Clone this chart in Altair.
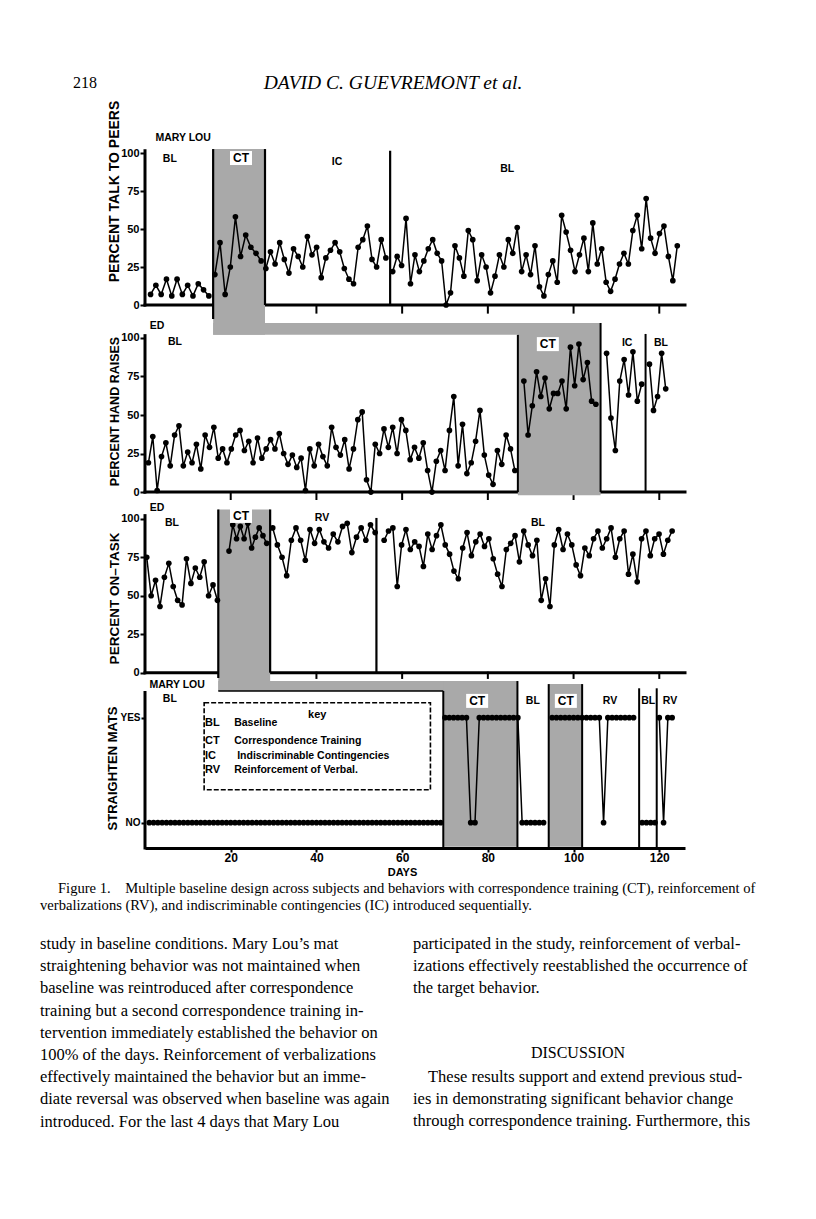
import altair as alt
import numpy as np
import pandas as pd

# ---------------- data ----------------
DAY_DOMAIN = [0, 126]
DAY_TICKS = [20, 40, 60, 80, 100, 120]
PCT_TICKS = [0, 25, 50, 75, 100]

# Panel 1 - Mary Lou, percent talk to peers
talk_bl1 = [7, 13, 7, 17, 6, 17, 7, 13, 6, 14, 10, 6]
talk_ct = [20, 41, 7, 25, 58, 32, 46, 38, 34, 29]
talk_ic = [24, 35, 27, 41, 30, 21, 37, 32, 25, 45, 33, 38, 18, 31, 36, 41, 35, 24,
           17, 14, 38, 43, 52, 30, 25, 43, 31]
talk_bl2 = [22, 32, 26, 57, 14, 33, 22, 29, 37, 43, 34, 29, 0, 8, 39, 31, 19, 49, 43, 16,
            33, 25, 8, 19, 33, 25, 43, 34, 51, 22, 33, 20, 39, 12, 6, 20, 29, 15, 59, 48,
            36, 22, 33, 44, 22, 54, 27, 37, 15, 9, 17, 27, 34, 27, 49, 59, 37, 70, 44, 34,
            47, 52, 32, 16, 39]
talk_phase_days = [(1.3, 14.9), (16.3, 27.1), (28.2, 56.2), (57.8, 124.2)]

# Panel 2 - Ed, percent hand raises
hand_bl1 = [19, 36, 1, 23, 32, 17, 37, 43, 17, 26, 19, 31, 15, 37, 29, 42, 22, 28, 19, 28,
            37, 40, 27, 33, 19, 35, 22, 28, 34, 28, 38, 25, 18, 24, 16, 22, 1, 28, 17, 31,
            23, 17, 42, 29, 24, 34, 15, 28, 47, 52, 8, 0, 31, 25, 41, 29, 42, 25, 47, 40,
            21, 29, 22, 32, 14, 0, 20, 27, 14, 40, 62, 17, 44, 12, 19, 33, 53, 24, 11, 5,
            27, 18, 37, 28, 14]
hand_ct = [72, 37, 56, 78, 62, 74, 54, 64, 64, 72, 54, 94, 69, 96, 73, 84, 59, 57]
hand_ic = [90, 48, 27, 72, 86, 63, 91, 59, 70]
hand_bl2 = [83, 53, 62, 90, 67]
hand_phase_days = [(0.8, 86.3), (88.4, 105.2), (107.7, 115.9), (117.7, 121.5)]

# Panel 3 - Ed, percent on-task
task_bl1 = [75, 50, 60, 43, 62, 71, 56, 47, 44, 74, 58, 68, 62, 72, 50, 57, 47]
task_ct = [79, 96, 87, 95, 87, 97, 81, 88, 94, 89, 84]
task_rv = [94, 83, 75, 63, 86, 94, 86, 73, 93, 84, 93, 85, 81, 90, 85, 95, 97, 78, 88, 94,
           86, 96, 91]
task_bl2 = [86, 92, 94, 56, 83, 93, 80, 85, 82, 69, 90, 80, 89, 96, 83, 77, 66, 61, 81, 91,
            76, 85, 90, 82, 87, 74, 64, 56, 80, 84, 89, 72, 92, 83, 76, 86, 47, 61, 43, 83,
            93, 80, 90, 83, 70, 63, 81, 76, 87, 92, 81, 87, 94, 75, 87, 92, 64, 77, 59, 87,
            92, 76, 87, 90, 77, 86, 92]
task_phase_days = [(0.4, 16.9), (19.6, 28.4), (29.8, 53.7), (55.8, 123.0)]

# Panel 4 - Mary Lou, straighten mats (1 = YES, 0 = NO), one value per day
mats_bl1 = [0, 0, 0, 0, 0, 0, 0, 0, 0, 0, 0, 0, 0, 0, 0, 0, 0, 0, 0, 0, 0, 0, 0,
            0, 0, 0, 0, 0, 0, 0, 0, 0, 0, 0, 0, 0, 0, 0, 0, 0, 0, 0, 0, 0, 0, 0,
            0, 0, 0, 0, 0, 0, 0, 0, 0, 0, 0, 0, 0, 0, 0, 0, 0, 0, 0, 0, 0, 0, 0]
mats_ct1_bl = [1, 1, 1, 1, 1, 1, 0, 0, 1, 1, 1, 1, 1, 1, 1, 1, 1, 1, 0, 0, 0, 0, 0, 0]
mats_ct2_rv = [1, 1, 1, 1, 1, 1, 1, 1, 1, 1, 1, 1, 0, 1, 1, 1, 1, 1, 1, 1]
mats_bl2 = [0, 0, 0, 0]
mats_rv2 = [1, 0, 1, 1]
mats_start_days = [1, 70, 95, 116, 120]

# Phase regions / lines (days) and y-extent (panel units)
talk_shades = [(15.9, 28.0, -9.2, 102.6)]
hand_shades = [(15.9, 28.0, 102, 112.3), (15.9, 106.3, 102, 109.7), (87.0, 106.3, -2, 109.7)]
task_shades = [(17.1, 29.2, -3.44, 106)]
mats_shades = [(17.1, 29.2, 1.254, 1.378), (17.1, 86.9, 1.254, 1.349),
               (69.6, 86.9, -0.23, 1.349), (94.2, 102.0, -0.23, 1.32)]

talk_phase_lines = [(15.9, -9.2, 102.6), (28.0, 0, 102.6), (57.2, 0, 101.5)]
hand_phase_lines = [(87.0, 0, 102), (106.3, 0, 109.7), (116.8, 0, 102.6)]
task_phase_lines = [(17.1, -3.44, 106), (29.2, 0, 106), (54.0, 0, 100.5)]
mats_phase_lines = [(69.6, -0.241, 1.254), (86.9, -0.241, 1.349), (94.2, -0.241, 1.32),
                    (102.0, -0.241, 1.32), (115.3, -0.241, 1.28), (119.4, -0.241, 1.28)]

# Phase labels: (day, value, text)
talk_labels = [(8.9, 109.9, "MARY LOU"), (5.8, 96, "BL"), (44.8, 94, "IC"), (84.5, 89.5, "BL")]
talk_ct_labels = [(22.4, 96.7, "CT")]
hand_labels = [(2.8, 107.8, "ED"), (7.0, 97.4, "BL"), (112.5, 96.8, "IC"), (120.4, 96.8, "BL")]
hand_ct_labels = [(94.0, 96.0, "CT")]
task_labels = [(2.8, 107, "ED"), (6.3, 97.2, "BL"), (41.3, 100.5, "RV"), (91.7, 97.2, "BL")]
task_ct_labels = [(22.4, 101.8, "CT")]
mats_labels = [(7.5, 1.311, "MARY LOU"), (5.8, 1.178, "BL"), (90.5, 1.16, "BL"),
               (108.5, 1.16, "RV"), (117.4, 1.16, "BL"), (122.5, 1.16, "RV")]
mats_ct_labels = [(77.5, 1.16, "CT"), (98.2, 1.16, "CT")]

key_box = [(13.8, 66.6, 0.314, 1.143)]
key_title = [(40.2, 1.026, "key")]
key_abbr = [(14.0, 0.949, "BL"), (14.0, 0.778, "CT"), (14.0, 0.635, "IC"), (14.0, 0.502, "RV")]
key_desc = [(20.8, 0.949, "Baseline"), (20.8, 0.778, "Correspondence Training"),
            (21.5, 0.635, "Indiscriminable Contingencies"), (20.8, 0.502, "Reinforcement of Verbal.")]

# Page text
header_num = "218"
header_title = "DAVID C. GUEVREMONT et al."
caption_lines = [
    "Figure 1.\u2003Multiple baseline design across subjects and behaviors with correspondence training (CT), reinforcement of",
    "verbalizations (RV), and indiscriminable contingencies (IC) introduced sequentially.",
]
left_col = [
    "study in baseline conditions. Mary Lou\u2019s mat",
    "straightening behavior was not maintained when",
    "baseline was reintroduced after correspondence",
    "training but a second correspondence training in-",
    "tervention immediately established the behavior on",
    "100% of the days. Reinforcement of verbalizations",
    "effectively maintained the behavior but an imme-",
    "diate reversal was observed when baseline was again",
    "introduced. For the last 4 days that Mary Lou",
]
right_col_top = [
    "participated in the study, reinforcement of verbal-",
    "izations effectively reestablished the occurrence of",
    "the target behavior.",
]
discussion = "DISCUSSION"
right_col_bottom = [
    "These results support and extend previous stud-",
    "ies in demonstrating significant behavior change",
    "through correspondence training. Furthermore, this",
]

# ---------------- helpers ----------------
FONT = "Liberation Sans"
SERIF = "Liberation Serif"
GRAY = "#a9a9a9"
W = 540


def series_frame(phase_values, phase_days):
    rows = []
    for seg, (vals, (a, b)) in enumerate(zip(phase_values, phase_days)):
        for d, v in zip(np.linspace(a, b, len(vals)), vals):
            rows.append({"day": float(d), "v": v, "seg": seg})
    return pd.DataFrame(rows)


def daily_frame(phase_values, starts):
    rows = []
    for seg, (vals, s) in enumerate(zip(phase_values, starts)):
        for i, v in enumerate(vals):
            rows.append({"day": s + i, "v": v, "seg": seg})
    return pd.DataFrame(rows)


def make_panel(df, shades, axis_rules, phase_rules, labels, ct_labels, ydom, height,
               yaxis, xaxis=None, extra=None):
    xs = alt.Scale(domain=DAY_DOMAIN, nice=False, zero=False)
    ys = alt.Scale(domain=ydom, nice=False, zero=False)

    def X(f):
        return alt.X(f, type="quantitative", scale=xs, axis=xaxis)

    def Y(f):
        return alt.Y(f, type="quantitative", scale=ys, axis=yaxis)

    rcols = ["x", "x2", "y", "y2", "w"]
    axis_layer = alt.Chart(pd.DataFrame(axis_rules, columns=rcols)).mark_rule(
        color="black", strokeCap="square").encode(
        x=X("x"), x2="x2", y=Y("y"), y2="y2",
        strokeWidth=alt.StrokeWidth("w:Q", scale=None, legend=None))
    shade_layer = alt.Chart(pd.DataFrame(shades, columns=["x", "x2", "y", "y2"])).mark_rect(
        color=GRAY).encode(x=X("x"), x2="x2", y=Y("y"), y2="y2")
    pl = pd.DataFrame([(d, d, a, b, w) for (d, a, b), w in phase_rules], columns=rcols)
    phase_layer = alt.Chart(pl).mark_rule(color="black").encode(
        x=X("x"), x2="x2", y=Y("y"), y2="y2",
        strokeWidth=alt.StrokeWidth("w:Q", scale=None, legend=None))
    line_layer = alt.Chart(df).mark_line(color="black", strokeWidth=1.5).encode(
        x=X("day"), y=Y("v"), detail="seg:N")
    pt_layer = alt.Chart(df).mark_circle(color="black", size=32, opacity=1).encode(
        x=X("day"), y=Y("v"))
    lab = pd.DataFrame(labels, columns=["day", "v", "t"])
    lab_layer = alt.Chart(lab).mark_text(font=FONT, fontSize=10.5, fontWeight="bold",
                                         color="black").encode(x=X("day"), y=Y("v"), text="t:N")
    ctl = pd.DataFrame(ct_labels, columns=["day", "v", "t"])
    ct_box = alt.Chart(ctl).mark_rect(color="white", width=22, height=14).encode(
        x=X("day"), y=Y("v"))
    ct_layer = alt.Chart(ctl).mark_text(font=FONT, fontSize=12, fontWeight="bold",
                                        color="black").encode(
        x=X("day"), y=Y("v"), text="t:N")
    layers = [axis_layer, shade_layer, phase_layer, line_layer, pt_layer, lab_layer,
              ct_box, ct_layer]
    if extra:
        layers += extra(X, Y)
    return alt.layer(*layers).properties(width=W, height=height)


def pct_axis(title, title_y, title_size):
    return alt.Axis(values=PCT_TICKS, domain=False, grid=False, ticks=True, tickSize=5,
                    tickWidth=2, tickColor="black", labelFont=FONT, labelFontSize=11,
                    labelFontWeight="bold", labelColor="black", labelPadding=1,
                    title=title, titleFont=FONT, titleFontSize=title_size,
                    titleFontWeight="bold", titleColor="black", titleAngle=270,
                    titleAlign="center", titleBaseline="bottom", titleX=-24,
                    titleY=title_y)


def std_axis_rules(top, tick_len):
    rows = [(0, 0, 0, top, 3), (0, 126, 0, 0, 3)]
    rows += [(d, d, 0, -tick_len, 2) for d in DAY_TICKS]
    return rows


def text_layer(rows, size, font=SERIF, align="left", style="normal"):
    d = pd.DataFrame(rows, columns=["px", "py", "t"])
    return alt.Chart(d).mark_text(font=font, fontSize=size, align=align, baseline="middle",
                                  fontStyle=style, color="black").encode(
        x=alt.X("px:Q", scale=None, axis=None), y=alt.Y("py:Q", scale=None, axis=None),
        text="t:N")


# ---------------- panels ----------------
def header_extra(X, Y):
    return [text_layer([(-72, -46, header_num)], 16),
            text_layer([(248, -46, header_title)], 19.5, align="center", style="italic")]


p1 = make_panel(
    series_frame([talk_bl1, talk_ct, talk_ic, talk_bl2], talk_phase_days),
    talk_shades, std_axis_rules(101.5, 5),
    [(r, 2.2) for r in talk_phase_lines], talk_labels, talk_ct_labels,
    [-9.2, 115.8], 190, pct_axis("PERCENT TALK TO PEERS", 62, 14), extra=header_extra)

p2 = make_panel(
    series_frame([hand_bl1, hand_ct, hand_ic, hand_bl2], hand_phase_days),
    hand_shades, std_axis_rules(101.5, 4.5),
    [(r, 2.0) for r in hand_phase_lines], hand_labels, hand_ct_labels,
    [-5.8, 112.3], 182, pct_axis("PERCENT  HAND  RAISES", 92, 12.5))

p3 = make_panel(
    series_frame([task_bl1, task_ct, task_rv, task_bl2], task_phase_days),
    task_shades, std_axis_rules(102, 3.4),
    [(r, 2.2) for r in task_phase_lines], task_labels, task_ct_labels,
    [-3.44, 111.5], 177, pct_axis("PERCENT ON\u2013TASK", 97, 13.5))


def mats_extra(X, Y):
    kb = pd.DataFrame(key_box, columns=["x", "x2", "y", "y2"])
    box = alt.Chart(kb).mark_rect(fillOpacity=0, stroke="black", strokeWidth=1.6,
                                  strokeDash=[5, 2]).encode(x=X("x"), x2="x2", y=Y("y"), y2="y2")
    kt = alt.Chart(pd.DataFrame(key_title, columns=["day", "v", "t"])).mark_text(
        font=FONT, fontSize=11, fontWeight="bold").encode(x=X("day"), y=Y("v"), text="t:N")
    ka = alt.Chart(pd.DataFrame(key_abbr, columns=["day", "v", "t"])).mark_text(
        font=FONT, fontSize=11, fontWeight="bold", align="left").encode(
        x=X("day"), y=Y("v"), text="t:N")
    kd = alt.Chart(pd.DataFrame(key_desc, columns=["day", "v", "t"])).mark_text(
        font=FONT, fontSize=10.5, fontWeight="bold", align="left").encode(
        x=X("day"), y=Y("v"), text="t:N")
    band_edge = alt.Chart(pd.DataFrame([(17.1, 69.6, 1.254, 1.254, 1.5)],
                                       columns=["x", "x2", "y", "y2", "w"])).mark_rule(
        color="black").encode(x=X("x"), x2="x2", y=Y("y"), y2="y2",
                              strokeWidth=alt.StrokeWidth("w:Q", scale=None, legend=None))
    cap = text_layer([(-87, 211, caption_lines[0]), (-105, 228, caption_lines[1])], 14.6)
    body_rows = [(-105, 266 + 22.2 * i, t) for i, t in enumerate(left_col)]
    body_rows += [(268, 266 + 22.2 * i, t) for i, t in enumerate(right_col_top)]
    body_rows += [(283, 399, right_col_bottom[0]), (268, 421, right_col_bottom[1]),
                  (268, 443, right_col_bottom[2])]
    body = text_layer(body_rows, 16.5)
    disc = text_layer([(433, 375, discussion)], 16, align="center")
    return [box, kt, ka, kd, band_edge, cap, body, disc]


mats_yaxis = alt.Axis(values=[0, 1], labelExpr="datum.value == 1 ? 'YES' : 'NO'",
                      domain=False, grid=False, ticks=True, tickSize=4, tickWidth=2,
                      tickColor="black", labelFont=FONT, labelFontSize=10,
                      labelFontWeight="bold", labelColor="black", labelPadding=1,
                      title="STRAIGHTEN  MATS", titleFont=FONT, titleFontSize=13,
                      titleFontWeight="bold", titleColor="black", titleAngle=270,
                      titleAlign="center", titleBaseline="bottom", titleX=-26, titleY=90)
mats_xaxis = alt.Axis(values=DAY_TICKS, domain=True, domainWidth=3, domainColor="black",
                      grid=False, ticks=True, tickSize=4, tickWidth=2, tickColor="black",
                      labelFont=FONT, labelFontSize=12, labelFontWeight="bold",
                      labelColor="black", labelPadding=0, title="DAYS", titleFont=FONT,
                      titleFontSize=11, titleFontWeight="bold", titleColor="black",
                      titleX=257, titleY=18, zindex=1)

p4 = make_panel(
    daily_frame([mats_bl1, mats_ct1_bl, mats_ct2_rv, mats_bl2, mats_rv2], mats_start_days),
    mats_shades, [(0, 0, -0.241, 1.24, 3)],
    [(r, 2.0) for r in mats_phase_lines], mats_labels, mats_ct_labels,
    [-0.241, 1.378], 170, mats_yaxis, xaxis=mats_xaxis, extra=mats_extra)

chart = alt.vconcat(p1, p2, p3, p4, spacing=0, bounds="flush").properties(
    padding={"left": 32, "top": 65, "right": 5, "bottom": 5}
).configure(background="white").configure_view(stroke=None)

chart.save("out.html", embed_options={"renderer": "svg", "actions": False})
